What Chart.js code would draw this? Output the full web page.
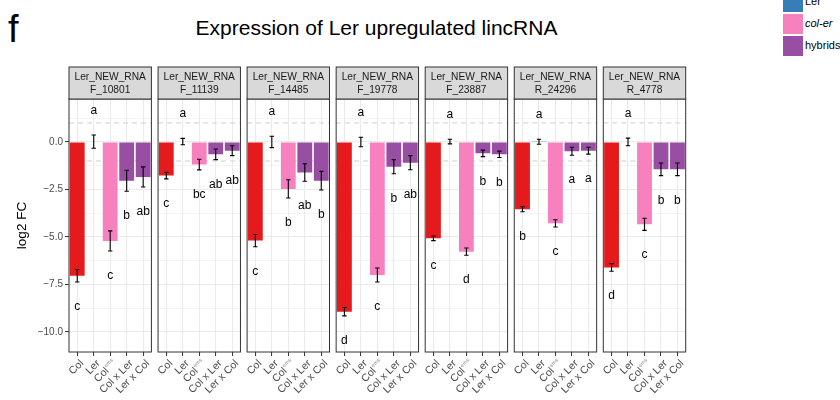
<!DOCTYPE html>
<html>
<head>
<meta charset="utf-8">
<script src="https://cdn.jsdelivr.net/npm/chart.js@4.4.0/dist/chart.umd.min.js"></script>
<style>
  body { margin: 0; background: #fff; width: 840px; height: 400px; overflow: hidden; position: relative;
         font-family: "Liberation Sans", Arial, sans-serif; }
  canvas { position: absolute; left: 0; top: 0; }
  #tag { position: absolute; left: 8px; top: 10px; font-size: 38px; line-height: 1; }
  #title { position: absolute; left: 0; width: 753px; top: 17px; text-align: center; font-size: 21px; line-height: 1; }
  .key { position: absolute; left: 783px; width: 20px; height: 19.5px; }
  .lab { position: absolute; left: 805px; font-size: 11px; height: 19.5px; line-height: 19.5px; }
</style>
</head>
<body>
<div id="tag">f</div>
<div id="title">Expression of Ler upregulated lincRNA</div>
<div id="legend"></div>
<div id="panels"></div>
<script>
// categories
const genotypes = ["Col", "Ler", "Col^ems", "Col x Ler", "Ler x Col"];
const genePrefix = "Ler_NEW_RNA";
const geneIds = ["F_10801", "F_11139", "F_14485", "F_19778", "F_23887", "R_24296", "R_4778"];

// log2 FC per gene (order of genotypes), error bars and significance letters
const fc10801 = [-7.04, 0.02, -5.21, -2.04, -1.84];
const err10801 = [0.33, 0.35, 0.53, 0.55, 0.53];
const sig10801 = ["c", "a", "c", "b", "ab"];

const fc11139 = [-1.77, 0.02, -1.19, -0.65, -0.46];
const err11139 = [0.17, 0.17, 0.28, 0.28, 0.26];
const sig11139 = ["c", "a", "bc", "ab", "ab"];

const fc14485 = [-5.19, 0.0, -2.47, -1.61, -2.04];
const err14485 = [0.32, 0.30, 0.48, 0.46, 0.49];
const sig14485 = ["c", "a", "b", "ab", "b"];

const fc19778 = [-8.93, 0.0, -7.0, -1.3, -1.09];
const err19778 = [0.22, 0.25, 0.37, 0.37, 0.37];
const sig19778 = ["d", "a", "c", "b", "ab"];

const fc23887 = [-5.07, 0.02, -5.77, -0.6, -0.65];
const err23887 = [0.12, 0.12, 0.19, 0.17, 0.17];
const sig23887 = ["c", "a", "d", "b", "b"];

const fc24296 = [-3.54, 0.01, -4.28, -0.49, -0.46];
const err24296 = [0.13, 0.13, 0.19, 0.21, 0.18];
const sig24296 = ["b", "a", "c", "a", "a"];

const fc4778 = [-6.6, 0.0, -4.33, -1.44, -1.44];
const err4778 = [0.2, 0.2, 0.32, 0.33, 0.33];
const sig4778 = ["d", "a", "c", "b", "b"];

const allFc = [fc10801, fc11139, fc14485, fc19778, fc23887, fc24296, fc4778];
const allErr = [err10801, err11139, err14485, err19778, err23887, err24296, err4778];
const allSig = [sig10801, sig11139, sig14485, sig19778, sig23887, sig24296, sig4778];

const legendLabels = ["Ler", "col-er", "hybrids"];
const legendColors = ["#377EB8", "#F781BF", "#984EA3"];
const barColors = ["#E41A1C", "#377EB8", "#F781BF", "#984EA3", "#984EA3"];
const refLines = [1, -1];

const FONT = '"Liberation Sans", Arial, sans-serif';
const YMIN = -11.05, YMAX = 2.26;
const PANEL_LEFT = 69, PANEL_STEP = 89.05, PANEL_W = 82.4;
const STRIP_TOP = 67;

// legend
const legend = document.getElementById("legend");
legendLabels.forEach((lab, k) => {
  const top = -8 + 22 * k;
  const key = document.createElement("div");
  key.className = "key";
  key.style.top = top + "px";
  key.style.background = legendColors[k];
  legend.appendChild(key);
  const t = document.createElement("div");
  t.className = "lab";
  t.style.top = top + "px";
  t.textContent = lab;
  if (lab === "col-er") t.style.fontStyle = "italic";
  legend.appendChild(t);
});

const near = (v, step) => Math.abs(v / step - Math.round(v / step)) < 1e-6;
const fmt = v => (v < 0 ? "\u2212" : "") + Math.abs(v).toFixed(1);

function makePanel(i) {
  const fc = allFc[i], err = allErr[i], sig = allSig[i];
  const left = PANEL_LEFT + PANEL_STEP * i;
  const right = left + PANEL_W;
  const first = i === 0;

  const canvas = document.createElement("canvas");
  canvas.width = 840;
  canvas.height = 400;
  document.getElementById("panels").appendChild(canvas);

  const decor = {
    id: "decor" + i,
    beforeDatasetsDraw(chart) {
      const { ctx, chartArea: a, scales: { y } } = chart;
      ctx.save();
      ctx.strokeStyle = "#D0D0D0";
      ctx.lineWidth = 1;
      ctx.setLineDash([5, 4]);
      refLines.forEach(v => {
        const py = y.getPixelForValue(v);
        ctx.beginPath();
        ctx.moveTo(a.left, py);
        ctx.lineTo(a.right, py);
        ctx.stroke();
      });
      ctx.restore();
    },
    afterDatasetsDraw(chart) {
      const { ctx, scales: { x, y } } = chart;
      ctx.save();
      ctx.strokeStyle = "#000";
      ctx.lineWidth = 1.1;
      fc.forEach((v, k) => {
        const px = x.getPixelForValue(k);
        const y1 = y.getPixelForValue(v + err[k]);
        const y2 = y.getPixelForValue(v - err[k]);
        ctx.beginPath();
        ctx.moveTo(px, y1); ctx.lineTo(px, y2);
        ctx.moveTo(px - 2.2, y1); ctx.lineTo(px + 2.2, y1);
        ctx.moveTo(px - 2.2, y2); ctx.lineTo(px + 2.2, y2);
        ctx.stroke();
      });
      ctx.fillStyle = "#000";
      ctx.font = "12px " + FONT;
      ctx.textAlign = "center";
      ctx.textBaseline = "middle";
      fc.forEach((v, k) => {
        const ly = v < 0 ? v - err[k] - 1.3 : v + err[k] + 1.3;
        ctx.fillText(sig[k], x.getPixelForValue(k), y.getPixelForValue(ly));
      });
      ctx.restore();
    },
    afterDraw(chart) {
      const { ctx, chartArea: a, scales: { x } } = chart;
      ctx.save();
      // panel border
      ctx.strokeStyle = "#333";
      ctx.lineWidth = 1;
      ctx.strokeRect(a.left, a.top, a.right - a.left, a.bottom - a.top);
      // strip
      ctx.fillStyle = "#D9D9D9";
      ctx.fillRect(a.left, STRIP_TOP, a.right - a.left, a.top - STRIP_TOP);
      ctx.strokeRect(a.left, STRIP_TOP, a.right - a.left, a.top - STRIP_TOP);
      ctx.fillStyle = "#1A1A1A";
      ctx.font = "10.2px " + FONT;
      ctx.textAlign = "center";
      ctx.textBaseline = "middle";
      const cx = (a.left + a.right) / 2;
      ctx.fillText(genePrefix, cx, STRIP_TOP + 10.5);
      ctx.fillText(geneIds[i], cx, STRIP_TOP + 23.5);
      // rotated x labels
      genotypes.forEach((g, k) => {
        const px = x.getPixelForValue(k);
        ctx.save();
        ctx.translate(px + 1, a.bottom + 6);
        ctx.rotate(-Math.PI / 4);
        ctx.textAlign = "right";
        ctx.textBaseline = "top";
        const parts = g.split("^");
        let off = 0;
        if (parts[1]) {
          ctx.font = "5.5px " + FONT;
          ctx.fillStyle = "#8C8C8C";
          ctx.fillText(parts[1], 0, -1);
          off = ctx.measureText(parts[1]).width + 0.5;
        }
        ctx.font = "10.6px " + FONT;
        ctx.fillStyle = "#4D4D4D";
        ctx.fillText(parts[0], -off, 0);
        ctx.restore();
      });
      // y axis title
      if (first) {
        ctx.save();
        ctx.translate(22.5, (a.top + a.bottom) / 2);
        ctx.rotate(-Math.PI / 2);
        ctx.fillStyle = "#000";
        ctx.font = "13.5px " + FONT;
        ctx.textAlign = "center";
        ctx.textBaseline = "middle";
        ctx.fillText("log2 FC", 0, 0);
        ctx.restore();
      }
      ctx.restore();
    }
  };

  new Chart(canvas, {
    type: "bar",
    data: {
      labels: genotypes,
      datasets: [{
        data: fc,
        backgroundColor: barColors,
        borderWidth: 0,
        barPercentage: 0.9,
        categoryPercentage: 1.0
      }]
    },
    options: {
      responsive: false,
      animation: false,
      events: [],
      layout: { padding: { top: 99, left: first ? 0 : left, right: 840 - right, bottom: 0 } },
      plugins: { legend: { display: false }, tooltip: { enabled: false } },
      scales: {
        x: {
          offset: true,
          afterFit: s => { s.height = 48; },
          border: { display: false },
          grid: { offset: false, color: "#EBEBEB", lineWidth: 1.1, drawTicks: true, tickLength: 4, tickColor: "#333", tickWidth: 1 },
          ticks: { display: false }
        },
        y: {
          min: YMIN,
          max: YMAX,
          afterFit: s => { s.width = first ? PANEL_LEFT : 0; },
          border: { display: false },
          grid: {
            color: c => (c.tick && near(c.tick.value, 1.25)) ? "#EBEBEB" : "rgba(0,0,0,0)",
            lineWidth: c => (c.tick && near(c.tick.value, 2.5)) ? 1.1 : 0.55,
            drawTicks: first,
            tickLength: 4,
            tickWidth: 1,
            tickColor: c => (c.tick && near(c.tick.value, 2.5)) ? "#333" : "rgba(0,0,0,0)"
          },
          ticks: {
            display: first,
            stepSize: 1.25,
            includeBounds: false,
            autoSkip: false,
            padding: 2,
            color: "#4D4D4D",
            font: { size: 10, family: FONT },
            callback: v => near(v, 2.5) ? fmt(v) : ""
          }
        }
      }
    },
    plugins: [decor]
  });
}

geneIds.forEach((g, i) => makePanel(i));
</script>
</body>
</html>
